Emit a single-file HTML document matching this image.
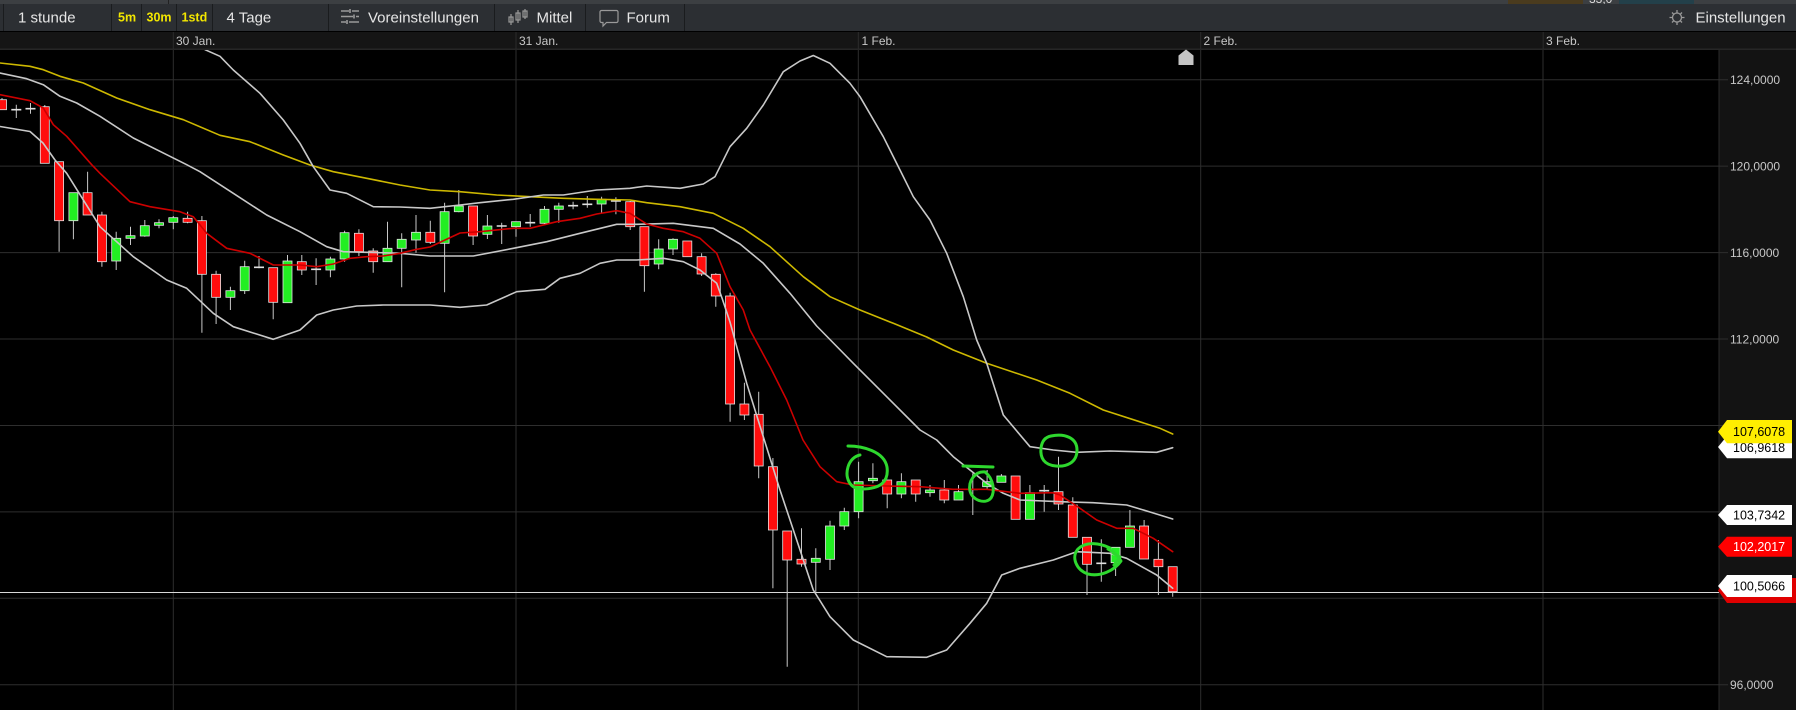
<!DOCTYPE html>
<html><head><meta charset="utf-8"><style>
html,body{margin:0;padding:0;background:#000;width:1796px;height:710px;overflow:hidden}
svg{display:block;font-family:"Liberation Sans",Arial,sans-serif}
.wk{stroke:#c8c8c8;stroke-width:1;fill:none}
.dj{stroke:#e0e0e0;stroke-width:1.6;fill:none}
.r rect{fill:#ff0d0d;stroke:#e4e4e4;stroke-width:0.8}
.g rect{fill:#22ee22;stroke:#e4e4e4;stroke-width:0.8}
.ln{fill:none;stroke-width:1.6;stroke-linejoin:round;stroke-linecap:round}
.an{fill:none;stroke:#2ed82e;stroke-width:3;stroke-linecap:round;stroke-linejoin:round}
.tb{fill:#e6e6e6;font-size:15px}
.yl{fill:#f2e600;font-size:12.5px;font-weight:bold}
.dt{fill:#c8c8c8;font-size:12px}
.ax{fill:#c8c8c8;font-size:12px}
.fl{font-size:12.5px}
</style></head><body>
<svg width="1796" height="710" viewBox="0 0 1796 710" xmlns="http://www.w3.org/2000/svg">
<defs><clipPath id="cc"><rect x="0" y="50" width="1719" height="660"/></clipPath></defs>
<!-- top strip -->
<rect x="0" y="0" width="1796" height="4" fill="#3c3f42"/>
<rect x="168" y="0" width="1" height="4" fill="#222"/>
<rect x="1508" y="0" width="75" height="5" fill="#4a3b1e"/>
<rect x="1619" y="0" width="75" height="5" fill="#23404a"/>
<text x="1589" y="3" fill="#ddd" font-size="12">33,0</text>
<!-- toolbar -->
<rect x="0" y="4" width="1796" height="27" fill="#2c2f33"/>
<rect x="0" y="31" width="1796" height="1" fill="#000"/>
<g fill="#1a1c1e">
<rect x="3" y="4" width="1" height="27"/><rect x="111" y="4" width="1" height="27"/><rect x="141" y="4" width="1" height="27"/>
<rect x="176" y="4" width="1" height="27"/><rect x="212" y="4" width="1" height="27"/><rect x="328" y="4" width="1" height="27"/>
<rect x="494" y="4" width="1" height="27"/><rect x="585" y="4" width="1" height="27"/><rect x="684" y="4" width="1" height="27"/>
</g>
<text x="18" y="22.5" class="tb">1 stunde</text>
<text x="118" y="21.7" class="yl">5m</text>
<text x="146.5" y="21.7" class="yl">30m</text>
<text x="181.5" y="21.7" class="yl">1std</text>
<text x="226.5" y="22.5" class="tb">4 Tage</text>
<g stroke="#9a9a9a" stroke-width="1.6" fill="none">
<path d="M341 11h8M352 11h7M341 16.5h12M356 16.5h3M341 22h5M349 22h10"/>
<path d="M350 9v4M354 14.5v4M347 20v4"/>
</g>
<text x="368" y="22.5" class="tb">Voreinstellungen</text>
<g stroke="#9a9a9a" stroke-width="1.2" fill="none">
<path d="M511 14v11M518 10v13M525 9v10"/>
<rect x="509" y="17" width="4" height="5"/><rect x="516" y="13" width="4" height="7"/><rect x="523" y="11" width="4" height="6"/>
</g>
<text x="536.5" y="22.5" class="tb">Mittel</text>
<path d="M601.5 10.5h15a1.5 1.5 0 0 1 1.5 1.5v9a1.5 1.5 0 0 1 -1.5 1.5h-10l-3.5 3.5v-3.5h-1.5a1.5 1.5 0 0 1 -1.5 -1.5v-9a1.5 1.5 0 0 1 1.5 -1.5z" fill="none" stroke="#9a9a9a" stroke-width="1.2"/>
<text x="626.5" y="22.5" class="tb">Forum</text>
<g stroke="#9a9a9a" stroke-width="1.3" fill="none">
<circle cx="1677" cy="17.5" r="4.5"/>
<path d="M1677 10v3M1677 22v3M1669.5 17.5h3M1681.5 17.5h3M1672 12.5l1.5 1.5M1682 12.5l-1.5 1.5M1672 22.5l1.5-1.5M1682 22.5l-1.5-1.5"/>
</g>
<text x="1695.5" y="22.5" class="tb">Einstellungen</text>
<!-- date row -->
<rect x="0" y="32" width="1796" height="16.5" fill="#151515"/>
<rect x="0" y="48.5" width="1796" height="1.5" fill="#262626"/>
<g fill="#2c2c2c">
<rect x="172.8" y="32" width="1" height="17"/><rect x="515.5" y="32" width="1" height="17"/><rect x="857.8" y="32" width="1" height="17"/>
<rect x="1200.2" y="32" width="1" height="17"/><rect x="1542.7" y="32" width="1" height="17"/>
</g>
<text x="176" y="45" class="dt">30 Jan.</text>
<text x="519" y="45" class="dt">31 Jan.</text>
<text x="861.5" y="45" class="dt">1 Feb.</text>
<text x="1203.5" y="45" class="dt">2 Feb.</text>
<text x="1546" y="45" class="dt">3 Feb.</text>
<!-- axis panel -->
<rect x="1719" y="50" width="77" height="660" fill="#131313"/>
<rect x="1718.5" y="50" width="1" height="660" fill="#2a2a2a"/>
<!-- grid -->
<g stroke="#2e2e2e" stroke-width="1">
<path d="M0 79.7H1728M0 166.1H1728M0 252.6H1728M0 339H1728M0 425.5H1728M0 511.9H1728M0 598.3H1728M0 684.7H1728"/>
<path d="M173.3 50V710M516 50V710M858.3 50V710M1200.7 50V710M1543 50V710"/>
</g>
<text x="1730" y="84" class="ax">124,0000</text>
<text x="1730" y="170.4" class="ax">120,0000</text>
<text x="1730" y="256.9" class="ax">116,0000</text>
<text x="1730" y="343.3" class="ax">112,0000</text>
<text x="1730" y="689" class="ax">96,0000</text>
<!-- price line -->
<path d="M0 592.5H1719" stroke="#d8d8d8" stroke-width="1"/>
<!-- home marker -->
<path d="M1186 49.5l7.5 6v9.5h-15v-9.5z" fill="#c4c4c4"/>
<g clip-path="url(#cc)">
<!-- wicks -->
<path class="wk" d="M2 98V110M16.3 104.7V118M30.5 103V113.7M44.8 105V163.3M59.1 161.7V251.7M73.4 192.7V239.3M87.6 171.7V215M101.9 211.7V266.7M116.2 231.7V270M130.5 226.7V245M144.8 220V236.7M159 219.3V228.3M173.3 216V229.3M187.6 211.7V223.3M201.9 216V332.7M216.1 270.7V324M230.4 286.7V310M244.7 260.7V294M259 256V268.3M273.2 267.7V319.3M287.5 255V302.7M301.8 255V275M316.1 258.3V285M330.4 256.7V277.3M344.6 230.7V261.7M358.9 229.3V256M373.2 248.3V272.7M387.5 221.7V261.7M401.7 233.3V287.3M416 215V252.7M430.3 220.7V244M444.6 202.7V292.3M458.8 190V212.3M473.1 206V245M487.4 215V239M501.7 222.7V244M516 221.7V236.7M530.2 214V226.7M544.5 206V224M558.8 202.7V222.7M573.1 201.7V209.3M587.3 196V207.7M601.6 196.7V213.3M615.9 197.3V214.3M630.2 201V230M644.4 226.7V291.7M658.7 239.3V269.3M673 238.3V255M687.3 241V256.7M701.6 253.3V276M715.8 273.3V306.7M730.1 292.7V421.7M744.4 382.7V420M758.7 391.7V478.3M772.9 458V588.3M787.2 531V666.7M801.5 528.3V566.7M815.8 548.3V591.7M830 520.7V570M844.3 507.7V530M858.6 461.7V518.3M872.9 463.3V483.3M887.2 480V508.3M901.4 473.3V498.3M915.7 480V501.7M930 485V496.7M944.3 480V503.3M958.5 485V500M972.8 473.3V515M987.1 470V490M1001.4 474V482.3M1015.6 476V519.3M1029.9 485V519.3M1044.2 485V511.7M1058.5 456.7V510M1072.8 497.3V537.3M1087 537.3V595M1101.3 539.3V581.7M1115.6 547.3V576M1129.9 510V547.3M1144.1 520V559M1158.4 540V595M1172.7 566.7V596.7"/>
<!-- doji -->
<path class="dj" d="M11.3 109.7h10M25.5 108.7h10M254 267.3h10M311.1 269.3h10M496.7 226h10M525.2 222.7h10M568.1 205.7h10M582.3 204.3h10M610.9 201h10M967.8 489.3h10M1039.2 490.7h10M1096.3 563.3h10"/>
<!-- red bodies -->
<g class="r">
<rect x="-2.5" y="99.7" width="9" height="10"/><rect x="40.3" y="106.7" width="9" height="56.6"/><rect x="54.6" y="161.7" width="9" height="59"/>
<rect x="83.1" y="192.7" width="9" height="22.3"/><rect x="97.4" y="215" width="9" height="46.7"/><rect x="183.1" y="218.3" width="9" height="4"/>
<rect x="197.4" y="220.7" width="9" height="53.6"/><rect x="211.6" y="274.3" width="9" height="23"/><rect x="268.7" y="267.7" width="9" height="34.6"/>
<rect x="297.3" y="261.7" width="9" height="8.3"/><rect x="354.4" y="233.3" width="9" height="18.4"/><rect x="368.7" y="251" width="9" height="10.7"/>
<rect x="425.8" y="232.3" width="9" height="10"/><rect x="468.6" y="206" width="9" height="30"/><rect x="625.7" y="201.7" width="9" height="25"/>
<rect x="639.9" y="226.7" width="9" height="39"/><rect x="682.8" y="241" width="9" height="15.7"/><rect x="697.1" y="256.7" width="9" height="17.3"/>
<rect x="711.3" y="274.3" width="9" height="21.7"/><rect x="725.6" y="296" width="9" height="108"/><rect x="739.9" y="404" width="9" height="11"/>
<rect x="754.2" y="414.3" width="9" height="51.7"/><rect x="768.4" y="466.7" width="9" height="63.3"/><rect x="782.7" y="531" width="9" height="29"/>
<rect x="797" y="559.3" width="9" height="4.7"/><rect x="882.7" y="480" width="9" height="14"/><rect x="911.2" y="480" width="9" height="14"/>
<rect x="939.8" y="490" width="9" height="10"/><rect x="1011.1" y="476" width="9" height="43.3"/><rect x="1054" y="491.7" width="9" height="12.3"/>
<rect x="1068.3" y="505" width="9" height="32.3"/><rect x="1082.5" y="537.3" width="9" height="27"/><rect x="1139.6" y="526" width="9" height="33"/>
<rect x="1153.9" y="559.3" width="9" height="7.4"/><rect x="1168.2" y="566.7" width="9" height="25"/>
</g>
<!-- green bodies -->
<g class="g">
<rect x="68.9" y="192.7" width="9" height="28"/><rect x="111.7" y="238.3" width="9" height="22.7"/><rect x="126" y="235.7" width="9" height="2.6"/>
<rect x="140.3" y="225.7" width="9" height="10.3"/><rect x="154.5" y="222.7" width="9" height="2.6"/><rect x="168.8" y="217.7" width="9" height="4.6"/>
<rect x="225.9" y="290.7" width="9" height="6.6"/><rect x="240.2" y="266.7" width="9" height="24"/><rect x="283" y="261" width="9" height="41.7"/>
<rect x="325.9" y="259" width="9" height="11"/><rect x="340.1" y="232.7" width="9" height="26.3"/><rect x="383" y="248.3" width="9" height="13.4"/>
<rect x="397.2" y="239.3" width="9" height="9"/><rect x="411.5" y="232.3" width="9" height="7.7"/><rect x="440.1" y="211.7" width="9" height="31.6"/>
<rect x="454.3" y="206" width="9" height="5.7"/><rect x="482.9" y="226" width="9" height="8.3"/><rect x="511.5" y="221.7" width="9" height="5"/>
<rect x="540" y="209.3" width="9" height="14"/><rect x="554.3" y="206" width="9" height="3.3"/><rect x="597.1" y="199.3" width="9" height="4.7"/>
<rect x="654.2" y="249" width="9" height="15"/><rect x="668.5" y="239.3" width="9" height="9.7"/><rect x="811.3" y="558.3" width="9" height="4"/>
<rect x="825.5" y="526" width="9" height="33.3"/><rect x="839.8" y="511.7" width="9" height="14.3"/><rect x="854.1" y="481.7" width="9" height="30"/>
<rect x="868.4" y="478.3" width="9" height="2.4"/><rect x="896.9" y="481.7" width="9" height="12.3"/><rect x="925.5" y="490" width="9" height="2.7"/>
<rect x="954" y="491.7" width="9" height="8.3"/><rect x="982.6" y="481.7" width="9" height="5"/><rect x="996.9" y="476" width="9" height="6.3"/>
<rect x="1025.4" y="492.7" width="9" height="26.6"/><rect x="1111.1" y="547.3" width="9" height="15.4"/><rect x="1125.4" y="526" width="9" height="21.3"/>
</g>
<!-- yellow MA -->
<polyline class="ln" stroke="#cdb800" points="0,63 30,66.3 43.3,69.7 60,76.3 83.3,83 116.7,98 150,109.7 183.3,119.7 220,135.3 250,141.7 283.3,155 310,165 333.3,171.7 366.7,178.3 400,185 430,190 460,191.7 496.7,195 530,196.7 563.3,198.3 596.7,199.3 630,200 646.7,202.7 680,206.7 713.3,213.3 743.3,228.3 770,246.7 803.3,276.7 830,296.7 860,310 893.3,323.3 926.7,337 953.3,350 986.7,363.3 1036.7,380 1070,393.3 1103.3,410 1160,428.3 1172.7,434"/>
<!-- upper band -->
<polyline class="ln" stroke="#c8c8c8" points="190,30 205,49.7 220,56.3 233.3,70 260,93.3 283.3,120 300,143.3 313.3,166.7 330,190 346.7,193.3 373.3,206.7 400,207 430,208.3 460,205 480,202.7 513.3,199.3 543.3,195 563.3,195 596.7,190 630,188.3 646.7,186 680,188.3 703.3,184 715,176.7 730,146.7 746.7,128.3 763.3,105 783.3,71.7 800,61 813.3,55.5 830,63.3 850,83.3 860,96.7 883.3,136.7 900,170 913.3,196.7 930,220 946.7,253.3 963.3,296.7 976.7,340 986.7,363.3 1003.3,415 1030,446.7 1053.3,450 1076.7,452.3 1110,451 1156.7,452.3 1172.7,447.7"/>
<!-- middle band -->
<polyline class="ln" stroke="#c8c8c8" points="0,73 26.7,78.7 43.3,84.7 60,96.3 76.7,103 100,116.3 133.3,138 166.7,154.7 186.7,164.7 200,171.7 233.3,193.3 266.7,215 300,231.7 326.7,246.7 343.3,251.7 366.7,252.3 400,253.3 430,256 473.3,256 513.3,248.3 546.7,241.7 580,233.3 616.7,224.3 636.7,224.3 673.3,223.3 713.3,228.3 740,244 763.3,263.3 790,293.3 816.7,326 853.3,363.3 886.7,396.7 920,430 936.7,440 953.3,456.7 970,470 986.7,483.3 1003.3,493.3 1020,500 1060,501.7 1093,502.7 1126.7,505 1150,512 1172.7,519"/>
<!-- lower band -->
<polyline class="ln" stroke="#c8c8c8" points="0,126.5 30,131.5 43,143 55,160 66.7,173.3 100,226.7 133.3,256.7 166.7,280 186.7,288.3 213.3,313.3 233.3,326.7 273.3,339.3 300,330 316.7,315 333.3,310 356.7,306 383.3,305 430,305 460,307.3 486.7,305 516.7,291.7 545,289.3 560,278.3 580,273.3 600,263.3 616.7,260 636.7,260 663.3,258.3 683.3,261.7 700,270 716.7,283.3 722,298 730,322 746.7,383.3 763.3,436.7 780,490 796.7,540 813.3,590 830,616.7 853.3,640 886.7,656.7 926.7,657.3 946.7,650 970,623.3 986.7,603.3 1001.7,575 1020,568.3 1053.3,560 1076.7,551.7 1110,553.3 1126.7,558.3 1156.7,575 1172.7,588.3"/>
<!-- red EMA -->
<polyline class="ln" stroke="#cc0000" points="0,94.7 30,100.7 43.3,108 53.3,124.7 66.7,136.3 91.7,164.7 100,173.3 130,201.7 150,206.7 180,211.7 193.3,216.7 206.7,233.3 226.7,248.3 250,253.3 273.3,265 300,265 316.7,266.7 333.3,264 350,258.3 366.7,256.7 383.3,256 400,253.3 416.7,249.3 430,247 445,240 460,233 480,231.7 513.3,228.3 530,228.3 556.7,221.7 580,218.3 596.7,214 616.7,210.7 630,213.3 646.7,224 663.3,228.3 683.3,231.7 700,238.3 716.7,253.3 730,286.7 743.3,310 750,330 770,366.7 786.7,400 803,440 820,466.7 836.7,481.7 853,485 886.7,486 920,486.7 953,489.3 986.7,489.3 1020,493.3 1053,492.7 1060,495 1080,508.3 1096.7,520 1116.7,528.3 1133.3,528.3 1153.3,538.3 1172.7,551.7"/>
<!-- annotations -->
<path class="an" d="M848,446 C862,446 884,451 887,467 C889,482 880,489 862,489 C849,489 845,477 848,467 C850,460 855,456 860,455"/>
<path class="an" d="M963,466 L993,467 M985,472 C975,471 968,481 970,491 C972,500 985,505 991,498 C995,492 994,479 985,472"/>
<path class="an" d="M1051,436 C1065,433 1077,438 1077,450 C1077,463 1066,467 1056,466 C1044,465 1040,458 1041,448 C1042,440 1046,437 1051,436"/>
<path class="an" d="M1110,548 C1100,543 1086,541 1078,549 C1071,557 1076,570 1088,574 C1100,577 1114,571 1121,561 C1118,555 1112,551 1108,549 M1113,553 L1120,557 L1114,565"/>
</g>
<!-- flags -->
<path d="M1718,590.5 L1727,578 H1796 V603 H1727 Z" fill="#e00000"/>
<path d="M1718,586 L1727,575 H1792 V597 H1727 Z" fill="#ffffff"/>
<text x="1733" y="590.5" class="fl" fill="#000">100,5066</text>
<path d="M1718,546.7 L1727,536.7 H1792 V556.7 H1727 Z" fill="#ff0000"/>
<text x="1733" y="551.2" class="fl" fill="#fff">102,2017</text>
<path d="M1718,515 L1727,505 H1792 V525 H1727 Z" fill="#ffffff"/>
<text x="1733" y="519.5" class="fl" fill="#000">103,7342</text>
<path d="M1718,447 L1727,436 H1792 V458.3 H1727 Z" fill="#ffffff"/>
<text x="1733" y="452" class="fl" fill="#000">106,9618</text>
<path d="M1718,431.7 L1727,420 H1792 V443.3 H1727 Z" fill="#ffee00"/>
<text x="1733" y="436.2" class="fl" fill="#000">107,6078</text>
</svg>
</body></html>
